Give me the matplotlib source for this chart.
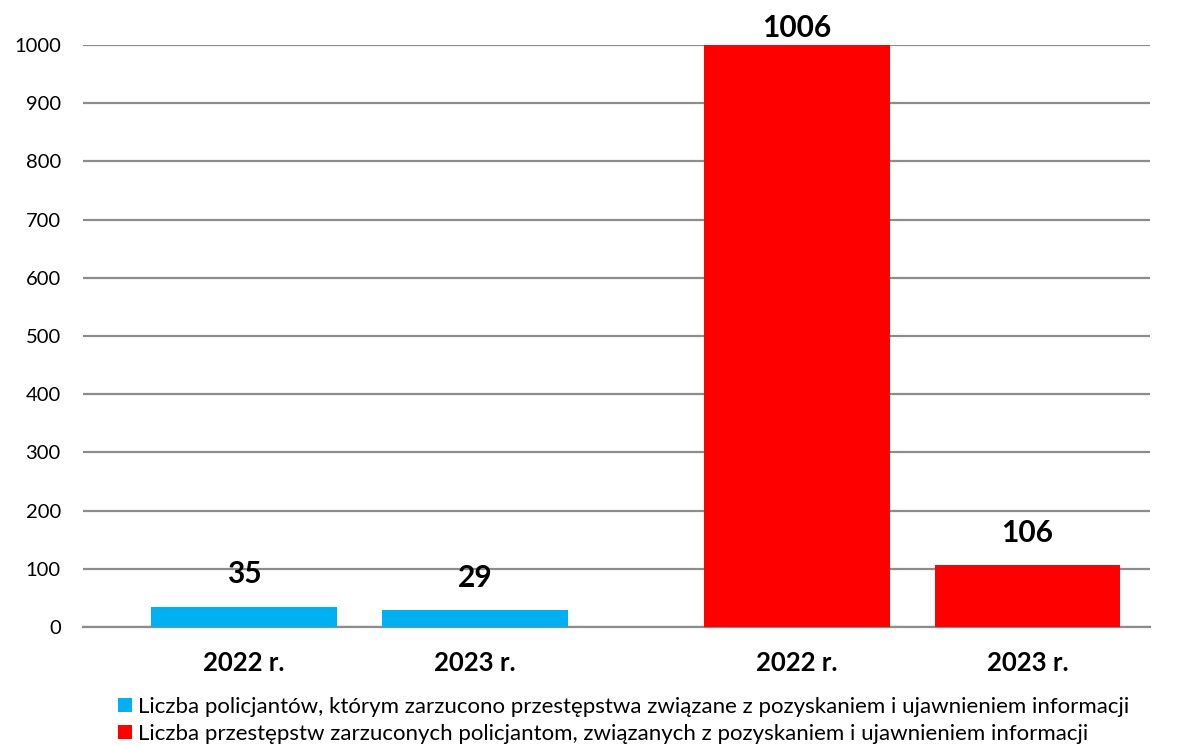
import matplotlib.pyplot as plt
import numpy as np
from matplotlib.patches import Patch

plt.rcParams['font.family'] = ['Lato', 'DejaVu Sans']

# dane
lata = ["2022 r.", "2023 r.", "2022 r.", "2023 r."]
policjanci = [35, 29]        # liczba policjantow
przestepstwa = [1006, 106]   # liczba przestepstw
etykieta_nieb = "Liczba policjantów, którym zarzucono przestępstwa związane z pozyskaniem i ujawnieniem informacji"
etykieta_czerw = "Liczba przestępstw zarzuconych policjantom, związanych z pozyskaniem i ujawnieniem informacji"

kolor_nieb = "#00B0F0"
kolor_czerw = "#FF0000"
szary = "#8C8C8C"

x_nieb = np.array([0, 1])
x_czerw = np.array([2.394, 3.392])
szer = 0.805
ymax = 1000

fig = plt.figure(figsize=(11.77, 7.46), dpi=100)
ax = fig.add_axes([0.0705, 0.1595, 0.9065, 0.7802])

ax.bar(x_nieb, policjanci, width=szer, color=kolor_nieb, zorder=3)
ax.bar(x_czerw, przestepstwa, width=szer, color=kolor_czerw, zorder=3)

# etykiety wartosci
for xs, vals in [(x_nieb, policjanci), (x_czerw, przestepstwa)]:
    for xx, v in zip(xs, vals):
        if v > ymax:
            y, off = ymax, 6
        else:
            y, off = v, 17
        ax.annotate(str(v), (xx, y), xytext=(0, off), textcoords="offset points",
                    ha="center", va="baseline", fontsize=21.5, fontweight="bold",
                    annotation_clip=False)

ax.set_ylim(0, ymax)
ax.set_xlim(-0.697, 3.922)
ax.set_yticks(np.arange(0, 1001, 100))
ax.yaxis.grid(True, color=szary, linewidth=1.6, zorder=0)
ax.set_axisbelow(True)
ax.set_xticks(np.concatenate([x_nieb, x_czerw]))
ax.set_xticklabels(lata, fontsize=18.5, fontweight="bold")
ax.tick_params(axis="x", length=0, pad=17)
ax.tick_params(axis="y", length=0, pad=16, labelsize=14.5)
for s in ["top", "right", "left"]:
    ax.spines[s].set_visible(False)
ax.spines["bottom"].set_color(szary)
ax.spines["bottom"].set_linewidth(1.6)

uchwyty = [Patch(facecolor=kolor_nieb, label=etykieta_nieb),
           Patch(facecolor=kolor_czerw, label=etykieta_czerw)]
fig.legend(handles=uchwyty, loc="upper left", bbox_to_anchor=(0.1, 0.066),
           frameon=False, fontsize=16, handlelength=0.65, handleheight=0.65,
           handletextpad=0.25, labelspacing=0.32, borderpad=0, borderaxespad=0)

fig.savefig("out.png", dpi=100)
